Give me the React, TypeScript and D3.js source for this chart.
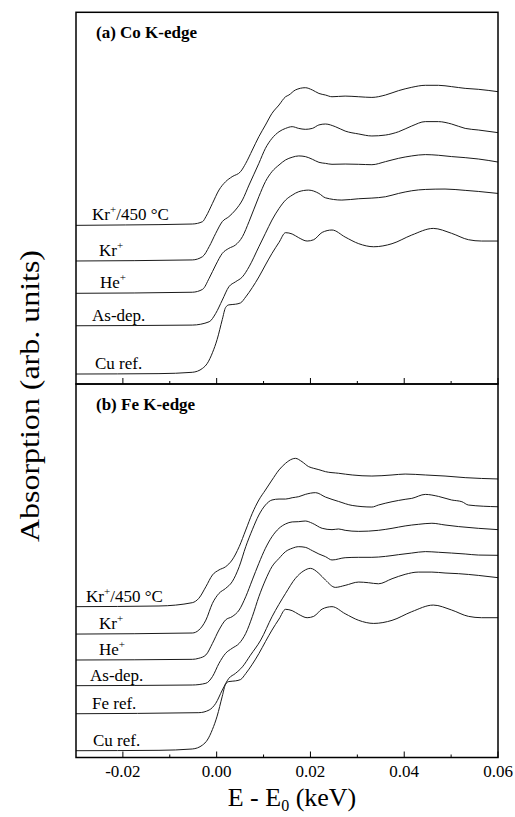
import React, { useEffect, useRef } from 'react';
import * as d3 from 'd3';

type Pt = [number, number];

// normalised absorption vs E - E0 (keV)
const cuRef: Pt[] = [[-0.030,0],[-0.0123,0.003],[-0.0052,0.013],[-0.0030,0.043],[-0.0020,0.08],[-0.0009,0.16],[0.0001,0.26],[0.0012,0.41],[0.0019,0.50],[0.0026,0.52],[0.0040,0.525],[0.0051,0.535],[0.0062,0.58],[0.0076,0.65],[0.0090,0.73],[0.0104,0.82],[0.0118,0.907],[0.0133,0.99],[0.0147,1.063],[0.0161,1.053],[0.0175,1.025],[0.0193,1.0],[0.0207,1.01],[0.0225,1.065],[0.0246,1.083],[0.0274,1.03],[0.0303,0.98],[0.0335,0.957],[0.0374,0.98],[0.0416,1.045],[0.0462,1.095],[0.0501,1.058],[0.0537,1.01],[0.0565,1.0],[0.060,1.0]];

const coKr450: Pt[] = [[-0.030,0],[-0.0194,0.003],[-0.0052,0.01],[-0.0030,0.028],[-0.0023,0.065],[-0.0009,0.165],[0.0005,0.266],[0.0019,0.328],[0.0033,0.366],[0.0051,0.404],[0.0062,0.466],[0.0076,0.566],[0.0090,0.667],[0.0104,0.754],[0.0118,0.842],[0.0133,0.905],[0.0147,0.967],[0.0154,0.98],[0.0168,1.018],[0.0189,1.035],[0.0204,1.018],[0.0218,0.992],[0.0232,0.98],[0.0246,0.967],[0.0274,0.972],[0.0303,0.967],[0.0331,0.962],[0.0360,0.98],[0.0388,1.013],[0.0416,1.038],[0.0445,1.053],[0.0473,1.053],[0.0501,1.043],[0.0530,1.03],[0.0558,1.023],[0.060,1.005]];
const coKr: Pt[] = [[-0.030,0],[-0.0052,0.008],[-0.0030,0.033],[-0.0016,0.108],[-0.0002,0.208],[0.0012,0.296],[0.0026,0.333],[0.0040,0.383],[0.0055,0.459],[0.0069,0.571],[0.0090,0.734],[0.0104,0.847],[0.0118,0.922],[0.0133,0.972],[0.0147,0.997],[0.0161,1.01],[0.0175,0.997],[0.0189,0.99],[0.0204,0.997],[0.0218,1.023],[0.0232,1.03],[0.0253,1.01],[0.0274,0.977],[0.0303,0.955],[0.0331,0.94],[0.0360,0.947],[0.0388,0.972],[0.0416,1.015],[0.0445,1.048],[0.0473,1.048],[0.0501,1.03],[0.0530,0.997],[0.0558,0.985],[0.060,0.965]];
const coHe: Pt[] = [[-0.030,0],[-0.0052,0.008],[-0.0030,0.03],[-0.0016,0.113],[-0.0002,0.213],[0.0012,0.30],[0.0026,0.338],[0.0040,0.363],[0.0055,0.426],[0.0069,0.539],[0.0090,0.727],[0.0104,0.84],[0.0118,0.915],[0.0133,0.965],[0.0147,1.003],[0.0161,1.023],[0.0175,1.033],[0.0189,1.028],[0.0204,1.008],[0.0218,0.985],[0.0232,0.977],[0.0246,0.97],[0.0274,0.972],[0.0303,0.97],[0.0331,0.967],[0.0360,0.99],[0.0388,1.015],[0.0416,1.033],[0.0445,1.043],[0.0473,1.038],[0.0501,1.028],[0.0530,1.02],[0.0558,1.01],[0.060,0.987]];
const coAsDep: Pt[] = [[-0.030,0],[-0.0052,0.005],[-0.0016,0.03],[-0.0002,0.093],[0.0012,0.193],[0.0026,0.293],[0.0040,0.33],[0.0055,0.368],[0.0069,0.443],[0.0090,0.594],[0.0104,0.695],[0.0118,0.795],[0.0133,0.882],[0.0147,0.945],[0.0161,0.982],[0.0175,1.008],[0.0196,1.02],[0.0218,0.995],[0.0232,0.962],[0.0267,0.945],[0.0303,0.955],[0.0331,0.96],[0.0360,0.97],[0.0388,0.995],[0.0416,1.015],[0.0445,1.025],[0.0487,1.028],[0.0530,1.018],[0.0558,1.01],[0.060,0.995]];

const feKr450: Pt[] = [[-0.030,0],[-0.0123,0.005],[-0.0052,0.03],[-0.0038,0.063],[-0.0023,0.15],[-0.0009,0.238],[0.0005,0.276],[0.0019,0.30],[0.0033,0.351],[0.0048,0.451],[0.0062,0.576],[0.0076,0.702],[0.0090,0.802],[0.0104,0.877],[0.0118,0.952],[0.0133,1.028],[0.0147,1.078],[0.0161,1.11],[0.0168,1.115],[0.0182,1.09],[0.0196,1.053],[0.0207,1.04],[0.0218,1.03],[0.0232,1.015],[0.0260,1.003],[0.0289,0.99],[0.0331,0.982],[0.0374,0.99],[0.0402,0.997],[0.0445,0.99],[0.0487,0.982],[0.0530,0.97],[0.060,0.96]];
const feKr: Pt[] = [[-0.030,0],[-0.0052,0.008],[-0.0038,0.03],[-0.0023,0.105],[-0.0009,0.231],[0.0005,0.306],[0.0019,0.343],[0.0033,0.393],[0.0048,0.506],[0.0062,0.657],[0.0076,0.784],[0.0090,0.895],[0.0104,0.97],[0.0118,1.008],[0.0133,1.015],[0.0147,1.015],[0.0161,1.025],[0.0175,1.033],[0.0189,1.05],[0.0211,1.063],[0.0232,1.03],[0.0260,0.997],[0.0289,0.967],[0.0331,0.955],[0.0345,0.97],[0.0374,0.995],[0.0402,1.013],[0.0416,1.02],[0.0445,1.05],[0.0473,1.035],[0.0501,1.008],[0.0523,0.995],[0.0537,0.97],[0.060,0.957]];
const feHe: Pt[] = [[-0.030,0],[-0.0052,0.005],[-0.0038,0.013],[-0.0023,0.038],[-0.0009,0.125],[0.0005,0.226],[0.0019,0.301],[0.0033,0.326],[0.0048,0.376],[0.0062,0.476],[0.0076,0.602],[0.0090,0.727],[0.0104,0.84],[0.0118,0.927],[0.0133,0.99],[0.0147,1.023],[0.0161,1.038],[0.0175,1.04],[0.0189,1.045],[0.0204,1.028],[0.0225,0.99],[0.0246,0.98],[0.0260,0.985],[0.0274,0.975],[0.0303,0.967],[0.0345,0.975],[0.0374,0.99],[0.0402,1.008],[0.0430,1.02],[0.0459,1.028],[0.0487,1.015],[0.0516,1.003],[0.0558,0.99],[0.060,0.98]];
const feAsDep: Pt[] = [[-0.030,0],[-0.0052,0.005],[-0.0023,0.018],[-0.0009,0.068],[0.0005,0.168],[0.0019,0.243],[0.0033,0.281],[0.0048,0.318],[0.0062,0.393],[0.0076,0.519],[0.0090,0.669],[0.0104,0.794],[0.0118,0.895],[0.0133,0.957],[0.0147,1.008],[0.0161,1.033],[0.0175,1.045],[0.0189,1.04],[0.0204,1.015],[0.0218,0.99],[0.0232,0.97],[0.0246,0.945],[0.0274,0.962],[0.0303,0.965],[0.0331,0.965],[0.0360,0.972],[0.0388,0.985],[0.0416,0.997],[0.0445,1.008],[0.0473,1.003],[0.0501,0.997],[0.0530,0.99],[0.0558,0.982],[0.060,0.98]];
const feRef: Pt[] = [[-0.030,0],[-0.0038,0.008],[-0.0016,0.028],[-0.0002,0.078],[0.0012,0.178],[0.0026,0.266],[0.0040,0.303],[0.0055,0.353],[0.0072,0.44],[0.0094,0.554],[0.0118,0.729],[0.0147,0.905],[0.0168,1.018],[0.0186,1.075],[0.0200,1.093],[0.0218,1.055],[0.0232,1.005],[0.0253,0.95],[0.0274,0.965],[0.0303,0.99],[0.0324,0.985],[0.0345,0.977],[0.0374,1.015],[0.0402,1.048],[0.0430,1.065],[0.0459,1.065],[0.0487,1.058],[0.0516,1.053],[0.0558,1.04],[0.060,1.023]];

// curve labels, vertical stacking offsets (arb. units)
const coNames = ['Kr+/450 °C', 'Kr+', 'He+', 'As-dep.', 'Cu ref.'];
const coOffsets = [1.118, 0.85, 0.607, 0.363, 0];
const feNames = ['Kr+/450 °C', 'Kr+', 'He+', 'As-dep.', 'Fe ref.', 'Cu ref.'];
const feOffsets = [1.083, 0.877, 0.682, 0.489, 0.278, 0];

const majorTicks = [-0.02, 0, 0.02, 0.04, 0.06];
const minorTicks = [-0.01, 0.01, 0.03, 0.05];

const FONT = '"Liberation Serif", "Times New Roman", serif';

function addLabel(g: d3.Selection<SVGGElement, unknown, null, undefined>, name: string, x: number, y: number) {
  const t = g.append('text').attr('x', x).attr('y', y).attr('font-size', 17).attr('font-family', FONT);
  const parts = name.split('+');
  parts.forEach((p, i) => {
    if (i > 0) {
      t.append('tspan').attr('dy', -7).attr('font-size', 11).text('+');
      t.append('tspan').attr('dy', 7).text(p);
    } else {
      t.append('tspan').text(p);
    }
  });
}

const App: React.FC = () => {
  const svgRef = useRef<SVGSVGElement>(null);

  useEffect(() => {
    if (!svgRef.current) return;
    const svg = d3.select(svgRef.current);
    svg.selectAll('*').remove();

    const left = 76, right = 498;
    const x = d3.scaleLinear().domain([-0.03, 0.06]).range([left, right]);
    const fmt = (v: number) => d3.format('.2f')(v).replace('\u2212', '-');

    const panels = [
      { title: '(a) Co K-edge', top: 12.3, bottom: 384, dom: [-0.075, 2.72], curves: [coKr450, coKr, coHe, coAsDep, cuRef], names: coNames, offs: coOffsets, lx: [92, 99, 100, 92, 95], ticksText: false },
      { title: '(b) Fe K-edge', top: 384, bottom: 757.5, dom: [-0.051, 2.757], curves: [feKr450, feKr, feHe, feAsDep, feRef, cuRef], names: feNames, offs: feOffsets, lx: [86, 99, 99, 90, 92, 93], ticksText: true },
    ];

    panels.forEach(p => {
      const y = d3.scaleLinear().domain(p.dom).range([p.bottom, p.top]);
      const g = svg.append('g');

      p.curves.forEach((c, i) => {
        const line = d3.line<Pt>()
          .x(d => x(d[0]))
          .y(d => y(d[1] + p.offs[i]))
          .curve(d3.curveMonotoneX);
        g.append('path')
          .attr('d', line(c) || '')
          .attr('fill', 'none')
          .attr('stroke', '#1a1a1a')
          .attr('stroke-width', 1);
        addLabel(g, p.names[i], p.lx[i], y(p.offs[i]) - 5);
      });

      g.append('text')
        .attr('x', 96).attr('y', p.top + 26)
        .attr('font-size', 17).attr('font-weight', 'bold').attr('font-family', FONT)
        .text(p.title);

      majorTicks.forEach(v => {
        g.append('line').attr('x1', x(v)).attr('x2', x(v)).attr('y1', p.bottom).attr('y2', p.bottom - 6)
          .attr('stroke', '#000').attr('stroke-width', 1);
      });
      minorTicks.forEach(v => {
        g.append('line').attr('x1', x(v)).attr('x2', x(v)).attr('y1', p.bottom).attr('y2', p.bottom - 3)
          .attr('stroke', '#000').attr('stroke-width', 1);
      });

      if (p.ticksText) {
        majorTicks.forEach(v => {
          g.append('text').attr('x', x(v)).attr('y', p.bottom + 19.5)
            .attr('text-anchor', 'middle').attr('font-size', 17).attr('font-family', FONT)
            .text(fmt(v));
        });
      }

      g.append('rect')
        .attr('x', left).attr('y', p.top).attr('width', right - left).attr('height', p.bottom - p.top)
        .attr('fill', 'none').attr('stroke', '#000').attr('stroke-width', 1.5);
    });

    // axis titles
    const xt = svg.append('text').attr('x', 292).attr('y', 806)
      .attr('text-anchor', 'middle').attr('font-size', 26).attr('font-family', FONT);
    xt.append('tspan').text('E - E');
    xt.append('tspan').attr('dy', 5).attr('font-size', 16).text('0');
    xt.append('tspan').attr('dy', -5).text(' (keV)');

    svg.append('text')
      .attr('transform', 'translate(39,396) rotate(-90)')
      .attr('text-anchor', 'middle').attr('font-size', 28).attr('font-family', FONT)
      .attr('textLength', 292).attr('lengthAdjust', 'spacingAndGlyphs')
      .text('Absorption (arb. units)');
  }, []);

  return (
    <div style={{ position: 'absolute', left: 0, top: 0 }}>
      <svg ref={svgRef} width={515} height={817} style={{ display: 'block', background: '#fff' }}></svg>
    </div>
  );
};

export default App;
